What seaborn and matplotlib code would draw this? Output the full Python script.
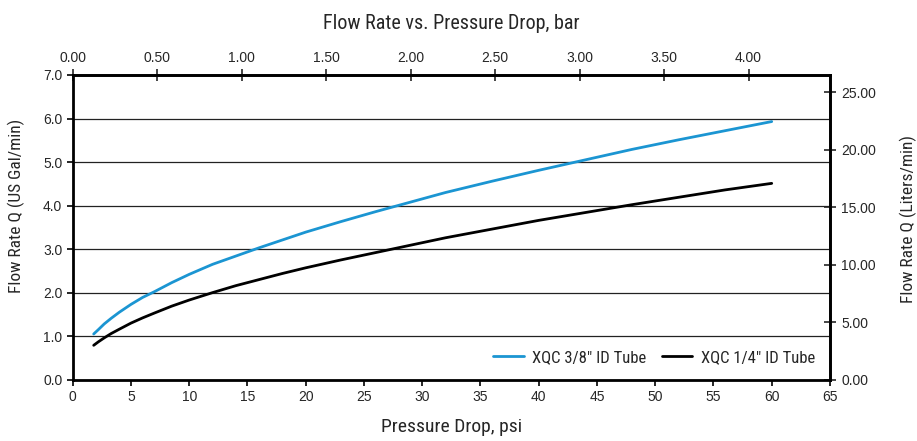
import numpy as np
import pandas as pd
import matplotlib
matplotlib.use("Agg")
import matplotlib.pyplot as plt
import seaborn as sns
from matplotlib import font_manager

# Pressure drop (psi) and flow rate (US gal/min)
pressure_psi = [1.8, 2.2, 2.7, 3.3, 4, 5, 6, 7, 8.5, 10, 12, 14, 16, 18, 20, 23, 26, 29, 32,
                36, 40, 44, 48, 52, 56, 60]
flow_38 = [1.05, 1.15, 1.28, 1.41, 1.55, 1.73, 1.89, 2.02, 2.23, 2.42, 2.65, 2.84, 3.03, 3.21,
           3.39, 3.63, 3.86, 4.08, 4.30, 4.56, 4.81, 5.05, 5.29, 5.51, 5.72, 5.93]
flow_14 = [0.79, 0.87, 0.96, 1.06, 1.16, 1.30, 1.42, 1.53, 1.69, 1.83, 2.00, 2.16, 2.30, 2.44,
           2.57, 2.75, 2.92, 3.09, 3.26, 3.46, 3.66, 3.84, 4.02, 4.19, 4.36, 4.51]
series_names = ['XQC 3/8" ID Tube', 'XQC 1/4" ID Tube']
series_colors = ["#1b95d2", "#000000"]

bar_ticks = [0, 0.5, 1, 1.5, 2, 2.5, 3, 3.5, 4]
lpm_ticks = [0, 5, 10, 15, 20, 25]

PSI_PER_BAR = 14.5038
LPM_PER_GPM = 3.78541

df = pd.DataFrame({
    "psi": pressure_psi * 2,
    "gpm": flow_38 + flow_14,
    "tube": [series_names[0]] * len(pressure_psi) + [series_names[1]] * len(pressure_psi),
})

sns.set_style("ticks")
names = {f.name for f in font_manager.fontManager.ttflist}
narrow = next((n for n in ["Liberation Sans Narrow", "Roboto Condensed", "Open Sans Condensed"]
               if n in names), None)
if narrow:
    cond = dict(family=[narrow, "DejaVu Sans"])
else:
    cond = dict(family=["DejaVu Sans"], stretch="condensed")
plt.rcParams["font.family"] = ["Liberation Sans", "DejaVu Sans"]

fig = plt.figure(figsize=(9.17, 4.41), dpi=100)
ax = fig.add_axes([0.0793, 0.139, 0.8258, 0.691])

sns.lineplot(data=df, x="psi", y="gpm", hue="tube", palette=series_colors,
             linewidth=2.0, ax=ax)

ax.set_xlim(0, 65)
ax.set_ylim(0, 7)
ax.set_xticks(range(0, 66, 5))
ax.set_yticks(range(0, 8))
ax.yaxis.set_major_formatter(matplotlib.ticker.FormatStrFormatter("%.1f"))
ax.grid(axis="y", color="#222222", linewidth=0.9)
ax.tick_params(axis="both", labelsize=10, direction="out", length=4, width=1.2, color="black")
for s in ax.spines.values():
    s.set_visible(True)
    s.set_linewidth(2.0)
    s.set_color("black")

ax.set_xlabel("Pressure Drop, psi", fontsize=14, labelpad=10, **cond)
ax.set_ylabel("Flow Rate Q (US Gal/min)", fontsize=12.5, **cond)
ax.yaxis.set_label_coords(0.0275, 0.533, transform=fig.transFigure)

top = ax.secondary_xaxis("top", functions=(lambda p: p / PSI_PER_BAR, lambda b: b * PSI_PER_BAR))
top.set_xticks(bar_ticks)
top.xaxis.set_major_formatter(matplotlib.ticker.FormatStrFormatter("%.2f"))
top.tick_params(labelsize=10, direction="inout", length=8, width=1.2, pad=3)
top.spines["top"].set_linewidth(2.0)
top.set_xlabel("Flow Rate vs. Pressure Drop, bar", fontsize=14.5, labelpad=16, **cond)

right = ax.secondary_yaxis("right", functions=(lambda g: g * LPM_PER_GPM, lambda l: l / LPM_PER_GPM))
right.set_yticks(lpm_ticks)
right.yaxis.set_major_formatter(matplotlib.ticker.FormatStrFormatter("%.2f"))
right.tick_params(labelsize=10, direction="inout", length=8, width=1.2, pad=4)
right.spines["right"].set_linewidth(2.0)
right.set_ylabel("Flow Rate Q (Liters/min)", fontsize=12.5, **cond)
right.yaxis.set_label_coords(0.981, 0.503, transform=fig.transFigure)

leg = ax.legend(loc="lower right", ncol=2, frameon=False, handlelength=1.85,
                columnspacing=0.9, handletextpad=0.5, borderaxespad=0.5,
                prop=dict(size=12, **cond))

fig.savefig("out.png", dpi=100)
